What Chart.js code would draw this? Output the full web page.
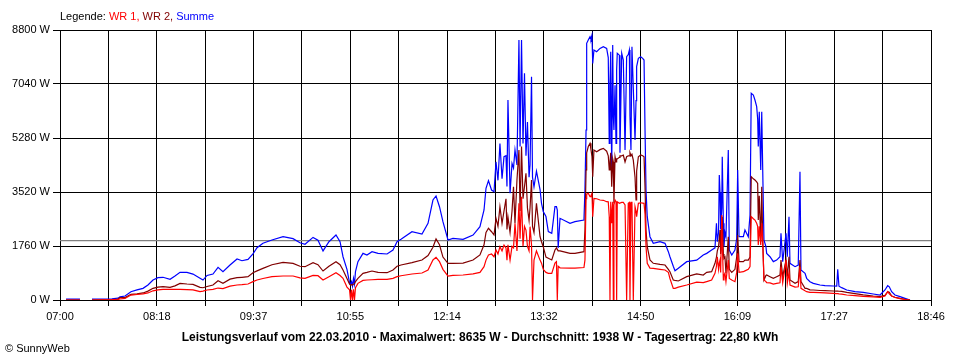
<!DOCTYPE html>
<html>
<head>
<meta charset="utf-8">
<title>Leistungsverlauf 22.03.2010</title>
<script src="https://cdn.jsdelivr.net/npm/chart.js@4.4.1/dist/chart.umd.min.js"></script>
<style>
  html, body { margin: 0; padding: 0; background: #fff; }
  #chart { display: block; }
</style>
</head>
<body>
<canvas id="chart" width="960" height="360"></canvas>
<script>
// Zeit in Minuten seit 07:00
const minuten = [
  4.9, 16.2, 21.1, 25.9, 42.1, 47.0, 48.6, 52.7, 57.5, 62.4, 67.3, 71.3, 75.4, 79.4, 83.5, 89.2, 93.2, 97.3,
  102.9, 107.8, 113.5, 115.9, 119.2, 124.0, 128.1, 132.1, 137.8, 143.5, 147.5, 152.4, 156.4, 159.7, 164.5,
  171.8, 180.8, 188.9, 194.5, 198.6, 205.1, 209.1, 213.2, 218.0, 223.7, 227.0, 229.4, 232.6, 234.7, 235.5,
  236.3, 237.1, 237.9, 238.7, 239.5, 241.5, 245.6, 248.8, 252.9, 257.8, 265.1, 269.9, 273.2, 276.4, 285.3,
  293.4, 298.3, 302.3, 304.8, 307.6, 310.4, 314.5, 318.5, 326.7, 334.8, 340.4, 343.7, 345.3, 347.3, 349.8,
  351.8, 353.4, 355.0, 356.6, 358.3, 359.9, 361.5, 362.3, 363.1, 364.8, 366.4, 367.6, 368.8, 370.4, 372.0,
  372.9, 374.1, 375.3, 376.5, 377.7, 378.9, 380.2, 381.0, 382.2, 383.0, 384.2, 386.2, 389.1, 390.3, 391.7,
  393.9, 395.8, 398.6, 401.2, 402.4, 403.1, 403.8, 405.3, 413.4, 417.4, 424.7, 425.5, 426.4, 426.9, 428.2,
  429.6, 430.4, 431.2, 431.8, 432.8, 435.0, 437.7, 440.4, 443.1, 444.4, 445.2, 445.8, 446.4, 447.2, 448.0,
  448.5, 449.0, 449.9, 450.7, 451.2, 451.7, 453.4, 453.9, 455.3, 456.6, 458.0, 459.3, 460.6, 461.5, 462.0,
  462.8, 463.6, 464.7, 466.1, 466.9, 467.4, 468.8, 470.7, 472.3, 473.4, 474.2, 475.0, 476.0, 478.2, 480.9,
  486.3, 490.4, 493.1, 494.4, 497.1, 498.5, 501.2, 508.0, 516.1, 521.4, 524.2, 528.2, 530.9, 532.1, 532.8,
  533.8, 534.4, 535.0, 535.5, 536.4, 536.8, 537.7, 538.2, 539.0, 539.8, 541.7, 542.5, 544.5, 547.1, 548.5,
  549.3, 550.4, 553.9, 555.2, 557.9, 559.3, 560.3, 562.0, 563.3, 564.7, 565.5, 566.0, 566.8, 568.0, 568.8,
  569.6, 570.6, 572.2, 572.8, 575.5, 578.2, 580.9, 583.6, 584.4, 585.8, 588.5, 589.5, 590.9, 591.7, 595.8,
  598.4, 599.8, 600.6, 603.9, 605.2, 607.9, 610.6, 616.0, 620.1, 626.8, 629.6, 630.4, 631.4, 633.6, 637.7,
  644.4, 651.1, 659.2, 664.7, 668.7, 670.9, 672.2, 674.1, 676.8, 680.9, 684.9, 689.0
];

// WR 1 (rot), Watt
const wr1 = [
  0, 0, null, 0, 10, 20, 33, 50, 160, 180, 200, 230, 300, 330, 348, 348, 348, 348,
  340, 330, 272, 290, 326, 348, 390, 370, 450, 489, 500, 521, 600, 652, 700,
  760, 782, 782, 720, 707, 800, 792, 652, 760, 890, 800, 707, 420, 330, 0,
  330, 0, 350, 0, 400, 543, 640, 652, 660, 673, 673, 707, 760, 790, 847,
  880, 978, 1304, 1391, 1250, 1000, 782, 800, 815, 850, 900, 1086, 1300, 1467, 1500,
  1410, 1630, 1500, 1740, 1600, 1790, 1700, 1300, 1800, 1300, 1750, 1700, 2500, 1600, 3150,
  2000, 3366, 1750, 2400, 2280, 1750, 1600, 2390, 1800, 0, 1300, 1600, 1300, 1200, 1000,
  900, 870, 870, 1200, 1250, 0, 1100, 1050, 1040, 1040, 1060, 1300, 3300, 3450, 3477,
  3366, 3400, 3477, 2716, 3313, 3300, 3259, 3250, 3204, 3200, 2716, 0, 3200, 2500, 3200,
  0, 3100, 3259, 3200, 0, 3200, 3150, 3150, 3180, 3180, 3100, 0, 3150, 3180, 0,
  3180, 3180, 0, 3041, 2900, 2716, 3150, 3170, 3160, 3150, 2800, 1737, 1196, 1040, 1032,
  1000, 978, 900, 700, 380, 380, 420, 489, 580, 565, 600, 652, 870, 1100, 1411,
  1000, 1200, 1300, 900, 2770, 1900, 652, 800, 870, 597, 1304, 700, 650, 597, 900,
  1520, 900, 922, 950, 1000, 1086, 2716, 2650, 2607, 2500, 2400, 1792, 2400, 1792, 2500,
  1900, 652, 600, 565, 560, 521, 540, 560, 1086, 560, 1300, 540, 900, 489, 420,
  430, 1086, 380, 300, 272, 250, 250, 239, 230, 217, 210, 210, 200, 190, 163,
  140, 115, 100, 87, 130, 272, 200, 130, 80, 43, 15, 0
];

// WR 2 (dunkelrot), Watt
const wr2 = [
  0, 0, null, 0, 10, 30, 75, 80, 185, 200, 230, 290, 380, 420, 435, 413, 460, 543,
  521, 510, 413, 400, 440, 489, 630, 543, 680, 727, 740, 760, 890, 950, 1032,
  1150, 1228, 1195, 1100, 1086, 1216, 1150, 945, 1100, 1249, 1150, 978, 700, 520, 489,
  500, 489, 520, 530, 600, 707, 870, 900, 945, 900, 890, 978, 1100, 1140, 1216,
  1304, 1450, 1717, 1988, 1800, 1400, 1196, 1196, 1200, 1304, 1467, 1800, 2200, 2337, 2225,
  2118, 2660, 2400, 3040, 2500, 2900, 3300, 2300, 2700, 2200, 2900, 3690, 2500, 3910, 4890,
  2900, 5000, 3300, 3700, 4130, 3000, 2600, 3000, 3910, 2400, 2200, 3150, 2063, 1900, 1737,
  1400, 1360, 1304, 1630, 1700, 1650, 1600, 1600, 1520, 1520, 1575, 2281, 4237, 4800, 5000,
  5107, 4900, 4670, 4020, 4890, 4834, 4900, 4943, 4850, 4700, 4237, 4500, 4800, 3690, 4600,
  4500, 3150, 4670, 4500, 4600, 4600, 4650, 4700, 4700, 4725, 4500, 4670, 4700, 4700, 4800,
  4700, 4750, 4560, 4000, 3259, 4200, 4670, 4725, 4700, 4670, 3690, 2281, 1737, 1304, 1196,
  1160, 1140, 1000, 922, 652, 640, 620, 760, 850, 815, 900, 922, 1196, 1400, 1600,
  1737, 2000, 2281, 1500, 1800, 2716, 1500, 1350, 1400, 870, 2063, 1000, 900, 1000, 1400,
  2118, 1250, 1250, 1300, 1300, 1400, 4020, 3950, 3910, 3850, 3800, 2607, 3400, 1900, 3690,
  1955, 652, 800, 815, 760, 707, 760, 815, 1304, 760, 1304, 760, 1411, 652, 543,
  600, 1304, 597, 380, 380, 330, 326, 310, 304, 293, 290, 290, 285, 280, 250,
  210, 170, 130, 108, 150, 272, 250, 130, 90, 54, 25, 0
];

// Summe (blau), Watt
const summe = [
  30, 30, null, 30, 40, 60, 100, 130, 270, 330, 380, 490, 650, 727, 740, 675, 782, 900,
  900, 845, 707, 650, 800, 847, 1065, 922, 1140, 1336, 1280, 1325, 1500, 1705, 1850,
  1955, 2063, 2000, 1867, 1815, 2040, 1950, 1600, 1900, 2118, 1900, 1410, 1000, 560, 520,
  600, 450, 700, 520, 922, 1250, 1520, 1467, 1575, 1520, 1500, 1630, 1900, 1977, 2225,
  2150, 2500, 3259, 3390, 3041, 2552, 1955, 2010, 1977, 2118, 2390, 2933, 3640, 3890, 3585,
  3530, 4500, 3900, 5100, 3950, 4670, 4700, 3700, 6520, 3480, 4450, 4300, 4890, 4400, 8470,
  5000, 8470, 5100, 7390, 4700, 5800, 4000, 4400, 7280, 4000, 3690, 4200, 3600, 3150, 2880,
  2720, 2230, 2173, 3041, 3041, 2933, 1700, 2662, 2500, 2553, 2607, 3585, 5540, 8365, 8473,
  8580, 8500, 8636, 7710, 8147, 8093, 8200, 8256, 8200, 7900, 5107, 7000, 8093, 4130, 8310,
  6000, 5540, 7000, 5107, 7500, 8040, 7980, 4800, 8040, 7820, 4890, 7930, 8000, 8147, 6000,
  4890, 8256, 6900, 5214, 6500, 7605, 7877, 7930, 7877, 7820, 5540, 3585, 2716, 2063, 1847,
  1900, 1847, 1575, 1411, 1100, 955, 1032, 1249, 1300, 1467, 1520, 1630, 1700, 2500, 1900,
  2200, 4074, 3500, 2300, 3000, 4671, 2500, 1737, 2200, 2063, 4889, 1630, 1467, 1630, 2000,
  4237, 2063, 2063, 2280, 2063, 2770, 6735, 6680, 6518, 6300, 5900, 5000, 6135, 4237, 6135,
  4237, 1955, 1737, 1520, 1411, 1250, 1300, 1411, 2173, 1250, 2173, 1411, 2716, 1195, 1086,
  1140, 4183, 978, 870, 707, 597, 543, 489, 467, 456, 450, 1000, 450, 402, 326,
  272, 250, 196, 163, 326, 467, 430, 270, 163, 108, 54, 0
];

const durchschnitt = 1938;
const achsenZeiten = ['07:00', '08:18', '09:37', '10:55', '12:14', '13:32', '14:50', '16:09', '17:27', '18:46'];
const tagesMinuten = 706; // 07:00 bis 18:46
const yTicks = [0, 1760, 3520, 5280, 7040, 8800];

const legendeTeile = [
  ['Legende: ', '#000000'],
  ['WR 1, ', '#ff0000'],
  ['WR 2, ', '#800000'],
  ['Summe', '#0000ff']
];
const unterschrift = 'Leistungsverlauf vom 22.03.2010 - Maximalwert: 8635 W - Durchschnitt: 1938 W - Tagesertrag: 22,80 kWh';
const copyright = '\u00a9 SunnyWeb';

function punkte(werte) {
  return minuten.map((m, i) => ({ x: m, y: werte[i] }));
}

// Legende, Unterschrift und Copyright als Text auf die Grafik
const texte = {
  id: 'texte',
  afterDraw(chart) {
    const ctx = chart.ctx;
    ctx.save();
    ctx.textBaseline = 'alphabetic';
    ctx.font = '11px "Liberation Sans", Arial, sans-serif';
    let x = chart.chartArea.left;
    legendeTeile.forEach(t => {
      ctx.fillStyle = t[1];
      ctx.fillText(t[0], x, 20);
      x += ctx.measureText(t[0]).width;
    });
    ctx.fillStyle = '#000';
    ctx.fillText(copyright, 5, 352);
    ctx.font = 'bold 12px "Liberation Sans", Arial, sans-serif';
    ctx.textAlign = 'center';
    ctx.fillText(unterschrift, 480, 341);
    ctx.restore();
  }
};

var ctx = document.getElementById('chart').getContext('2d');
var chart = new Chart(ctx, {
  type: 'line',
  data: {
    datasets: [{
      label: 'WR 1',
      borderColor: '#ff0000',
      data: punkte(wr1)
    },
    {
      label: 'WR 2',
      borderColor: '#800000',
      data: punkte(wr2)
    },
    {
      label: 'Summe',
      borderColor: '#0000ff',
      data: punkte(summe)
    },
    {
      label: 'Durchschnitt',
      borderColor: '#808080',
      data: [{ x: 0, y: durchschnitt }, { x: tagesMinuten, y: durchschnitt }]
    }]
  },
  options: {
    responsive: false,
    animation: false,
    events: [],
    layout: { padding: { top: 30, right: 29, left: 0, bottom: 0 } },
    elements: {
      line: { borderWidth: 1.2, tension: 0, fill: false },
      point: { radius: 0 }
    },
    plugins: {
      legend: { display: false },
      tooltip: { enabled: false }
    },
    scales: {
      x: {
        type: 'linear',
        min: 0,
        max: tagesMinuten,
        afterFit: s => { s.height = 60; },
        afterBuildTicks: s => {
          s.ticks = [];
          for (let i = 0; i <= 18; i++) s.ticks.push({ value: i * tagesMinuten / 18 });
        },
        ticks: {
          autoSkip: false,
          maxRotation: 0,
          padding: 4,
          color: '#000',
          font: { family: '"Liberation Sans", Arial, sans-serif', size: 11 },
          callback: (v, i) => i % 2 === 0 ? achsenZeiten[i / 2] : ''
        },
        grid: { color: '#000', lineWidth: 1, tickLength: 6 },
        border: { color: '#000' }
      },
      y: {
        min: 0,
        max: 8800,
        afterFit: s => { s.width = 60; },
        afterBuildTicks: s => { s.ticks = yTicks.map(v => ({ value: v })); },
        ticks: {
          padding: 3,
          color: '#000',
          font: { family: '"Liberation Sans", Arial, sans-serif', size: 11 },
          callback: v => v + ' W'
        },
        grid: { color: '#000', lineWidth: 1, tickLength: 7 },
        border: { color: '#000' }
      }
    }
  },
  plugins: [texte]
});
</script>
</body>
</html>
